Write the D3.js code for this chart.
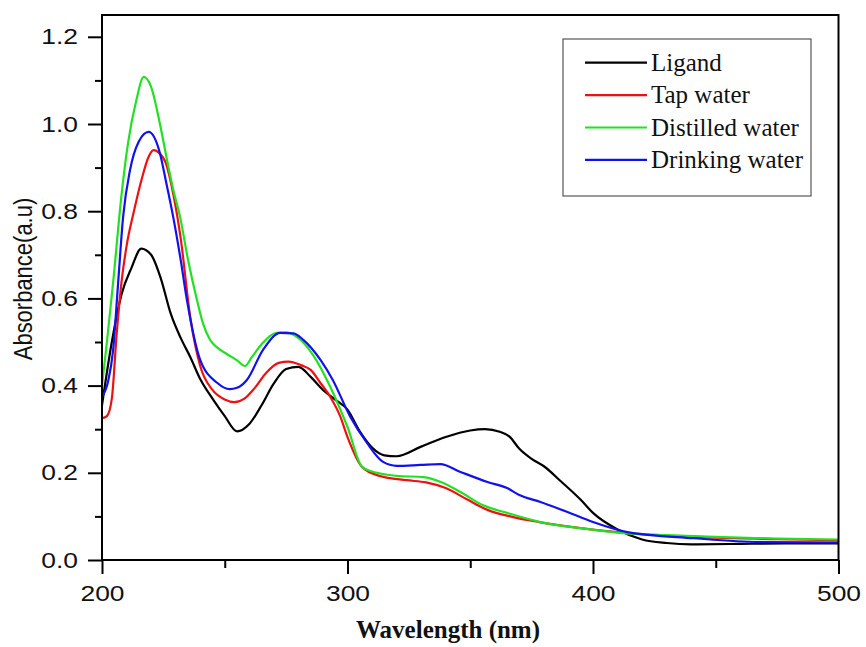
<!DOCTYPE html>
<html>
<head>
<meta charset="utf-8">
<script src="https://cdnjs.cloudflare.com/ajax/libs/d3/7.8.5/d3.min.js"></script>
<style>
  body { margin: 0; background: #fff; }
  svg { display: block; }
</style>
</head>
<body>
<div class="central"></div>
<script>
//Width and height of the picture
var width = 866,
	height = 647;

//Spectra (wavelength in nm, absorbance in a.u)
var ligandWl  = [200,204,208,212,216,220,224,228,232,236,240,245,250,255,260,265,270,275,280,285,290,295,300,305,310,315,320,330,340,350,356,362,366,370,375,380,387,395,400,410,420,430,440,460,480,500];
var ligandAbs = [0.355,0.50,0.61,0.67,0.714,0.70,0.645,0.565,0.51,0.465,0.415,0.37,0.33,0.295,0.312,0.355,0.405,0.438,0.443,0.42,0.39,0.368,0.345,0.295,0.258,0.24,0.238,0.26,0.282,0.297,0.30,0.294,0.283,0.255,0.232,0.215,0.18,0.138,0.108,0.07,0.047,0.039,0.036,0.037,0.038,0.038];

var tapWl  = [200,202,204,206,208,210,213,216,219,221,223,226,229,232,236,240,245,250,254,258,262,267,272,276,281,285,289,293,297,300,306,313,324,332,340,349,357,367,378,395,410,425,450,475,500];
var tapAbs = [0.325,0.33,0.37,0.52,0.64,0.72,0.80,0.87,0.925,0.94,0.935,0.91,0.84,0.74,0.555,0.445,0.39,0.368,0.362,0.37,0.393,0.43,0.452,0.455,0.447,0.436,0.406,0.374,0.33,0.282,0.213,0.193,0.183,0.178,0.165,0.138,0.115,0.099,0.087,0.073,0.064,0.057,0.051,0.048,0.045];

var distWl  = [200,202,204.5,208,210.6,214,217,220,223.6,226.5,229,231.8,235,238.7,241,244,247,251,255,258.3,261,265,271,275,279.5,286,293,300,306,312,320,331,338,346,355,365,378.6,395,410,425,450,475,500];
var distAbs = [0.40,0.50,0.635,0.84,0.956,1.055,1.108,1.085,1.0,0.917,0.85,0.787,0.69,0.596,0.545,0.505,0.487,0.472,0.458,0.445,0.465,0.495,0.521,0.522,0.511,0.47,0.397,0.305,0.213,0.2,0.193,0.19,0.179,0.156,0.126,0.108,0.087,0.073,0.063,0.058,0.053,0.049,0.047];

var drinkWl  = [200,202.5,204.5,206.5,208.6,211.4,215,219,223.6,226,229,232,234.6,240,247,252,255,259,265.6,272.6,278,282,289,294,301,308,314.5,320,329.6,337.8,346,357,365,370,378.6,389.6,400,414,441,468,500];
var drinkAbs = [0.374,0.41,0.48,0.63,0.787,0.894,0.96,0.982,0.933,0.87,0.787,0.69,0.596,0.459,0.406,0.392,0.395,0.413,0.482,0.521,0.52,0.505,0.459,0.413,0.33,0.268,0.225,0.216,0.218,0.22,0.202,0.179,0.165,0.149,0.133,0.11,0.087,0.064,0.05,0.041,0.04];

var seriesNames  = ["Ligand", "Tap water", "Distilled water", "Drinking water"];
var seriesColors = ["#000000", "#ee1111", "#22e022", "#1111ee"];

var xMajor = [200, 300, 400, 500],
	xMinor = [250, 350, 450];
var yMajor = [0, 0.2, 0.4, 0.6, 0.8, 1.0, 1.2],
	yMinor = [0.1, 0.3, 0.5, 0.7, 0.9, 1.1];

//Plot box (not "top": that one belongs to window)
var plotL = 102, plotR = 838.5, plotT = 15, plotB = 560;

var x = d3.scaleLinear().domain([200, 500]).range([plotL, plotR]);
var y = d3.scaleLinear().domain([0, 1.25]).range([plotB, plotT]);

var svg = d3.select(".central")
			.append("svg")
			.attr("width", width)
			.attr("height", height);

//Zip each spectrum into points
var series = [
	{name: seriesNames[0], color: seriesColors[0], wl: ligandWl, abs: ligandAbs},
	{name: seriesNames[1], color: seriesColors[1], wl: tapWl, abs: tapAbs},
	{name: seriesNames[2], color: seriesColors[2], wl: distWl, abs: distAbs},
	{name: seriesNames[3], color: seriesColors[3], wl: drinkWl, abs: drinkAbs}
];
series.forEach(function(s){
	s.points = s.wl.map(function(w, i){ return [w, s.abs[i]]; });
});

var line = d3.line()
			.x(function(d){ return x(d[0]); })
			.y(function(d){ return y(d[1]); })
			.curve(d3.curveMonotoneX);

svg.append("g")
	.selectAll("path")
	.data(series)
	.enter()
	.append("path")
	.attr("d", function(d){ return line(d.points); })
	.style("fill", "none")
	.style("stroke", function(d){ return d.color; })
	.style("stroke-width", 2.2)
	.style("stroke-linejoin", "round");

//Axes
var tickFont = "'Liberation Sans', Arial, sans-serif";

var yAxis = svg.append("g")
	.attr("transform", "translate(" + plotL + ",0)")
	.call(d3.axisLeft(y).tickValues(yMajor).tickFormat(d3.format(".1f")).tickSize(14).tickPadding(10).tickSizeOuter(0));
yAxis.select(".domain").remove();
yAxis.selectAll("line").style("stroke-width", 2);
yAxis.selectAll("text")
	.style("font-family", tickFont)
	.style("font-size", "22px")
	.attr("fill", "#111")
	.attr("x", -24 / 1.2)
	.attr("transform", "scale(1.2,1)");

svg.append("g")
	.attr("transform", "translate(" + plotL + ",0)")
	.call(d3.axisLeft(y).tickValues(yMinor).tickFormat("").tickSize(7).tickSizeOuter(0))
	.call(function(g){ g.select(".domain").remove(); })
	.selectAll("line").style("stroke-width", 2);

var xAxis = svg.append("g")
	.attr("transform", "translate(0," + plotB + ")")
	.call(d3.axisBottom(x).tickValues(xMajor).tickFormat(d3.format("d")).tickSize(14).tickPadding(11).tickSizeOuter(0));
xAxis.select(".domain").remove();
xAxis.selectAll("line").style("stroke-width", 2);
xAxis.selectAll("text")
	.style("font-family", tickFont)
	.style("font-size", "22px")
	.attr("fill", "#111")
	.attr("transform", "scale(1.2,1)");

svg.append("g")
	.attr("transform", "translate(0," + plotB + ")")
	.call(d3.axisBottom(x).tickValues(xMinor).tickFormat("").tickSize(8).tickSizeOuter(0))
	.call(function(g){ g.select(".domain").remove(); })
	.selectAll("line").style("stroke-width", 2);

//Frame round the plot
svg.append("rect")
	.attr("x", plotL)
	.attr("y", plotT)
	.attr("width", plotR - plotL)
	.attr("height", plotB - plotT)
	.style("fill", "none")
	.style("stroke", "#000")
	.style("stroke-width", 2);

//Axis titles
svg.append("text")
	.attr("transform", "translate(448,638)")
	.attr("text-anchor", "middle")
	.style("font-family", "'Liberation Serif', 'Times New Roman', serif")
	.style("font-weight", "bold")
	.style("font-size", "25px")
	.attr("fill", "#111")
	.text("Wavelength (nm)");

svg.append("text")
	.attr("transform", "translate(32,279) rotate(-90) scale(1,1.2)")
	.attr("text-anchor", "middle")
	.style("font-family", tickFont)
	.style("font-size", "22px")
	.attr("fill", "#111")
	.text("Absorbance(a.u)");

//Legend
var legend = svg.append("g");
legend.append("rect")
	.attr("x", 563)
	.attr("y", 39)
	.attr("width", 248)
	.attr("height", 157)
	.style("fill", "#fff")
	.style("stroke", "#555")
	.style("stroke-width", 1.2);

var rows = legend.selectAll(".legRow")
	.data(series)
	.enter()
	.append("g")
	.attr("class", "legRow")
	.attr("transform", function(d, i){ return "translate(0," + (62.7 + i * 32.4) + ")"; });
rows.append("line")
	.attr("x1", 585)
	.attr("x2", 647)
	.style("stroke", function(d){ return d.color; })
	.style("stroke-width", 2.2);
rows.append("text")
	.attr("x", 651)
	.attr("dy", "0.33em")
	.style("font-family", "'Liberation Serif', 'Times New Roman', serif")
	.style("font-size", "25px")
	.attr("fill", "#111")
	.text(function(d){ return d.name; });
</script>
</body>
</html>
